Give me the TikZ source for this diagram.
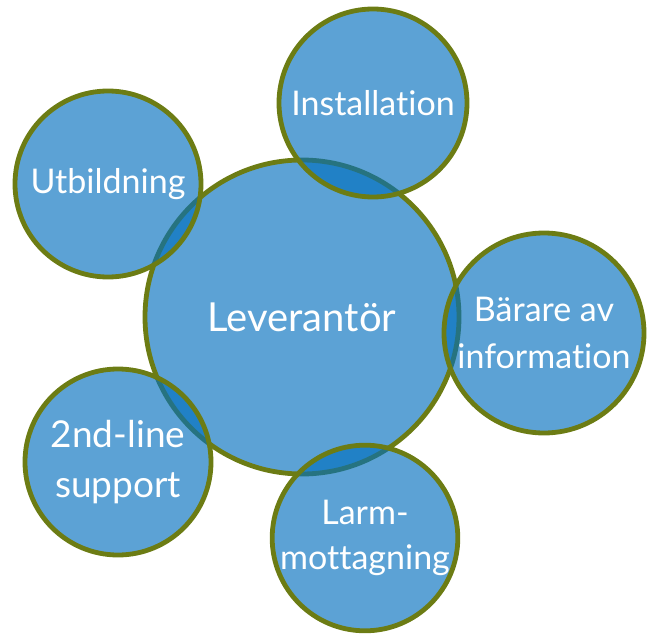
\documentclass[tikz,border=0pt]{standalone}
\usepackage{fontspec}
\setmainfont{Lato}[Ligatures={NoCommon,NoDiscretionary}]
\definecolor{bubblefill}{RGB}{0,110,189}
\definecolor{bubbleedge}{RGB}{108,124,20}

\begin{document}
\begin{tikzpicture}[x=1pt, y=-1pt,
    bubble/.style={circle, draw=bubbleedge, line width=4.8pt, fill=bubblefill,
        fill opacity=0.64, text opacity=1, text=white, inner sep=0pt,
        align=center, font=\fontsize{34}{47}\selectfont}]
    % fixed frame, coordinates in pixels from top left
    \useasboundingbox (0,0) rectangle (654,634);

    % centre bubble
    \node[bubble, minimum size=314pt, font=\fontsize{40}{48}\selectfont] (lev) at (302,317) {Leverantör};

    % outer bubbles, drawn on top of the centre
    \node[bubble, minimum size=188pt] (inst) at (373,103) {Installation};
    \node[bubble, minimum size=186pt] (utb)  at (108,184) {Utbildning};
    \node[bubble, minimum size=200pt] (bar)  at (544,333) {Bärare av\\information};
    \node[bubble, minimum size=186pt, font=\fontsize{37}{50}\selectfont] (sup) at (118,462) {2nd-line\\support};
    \node[bubble, minimum size=184pt, font=\fontsize{34}{45}\selectfont] (larm) at (365,538) {Larm-\\mottagning};
\end{tikzpicture}
\end{document}
